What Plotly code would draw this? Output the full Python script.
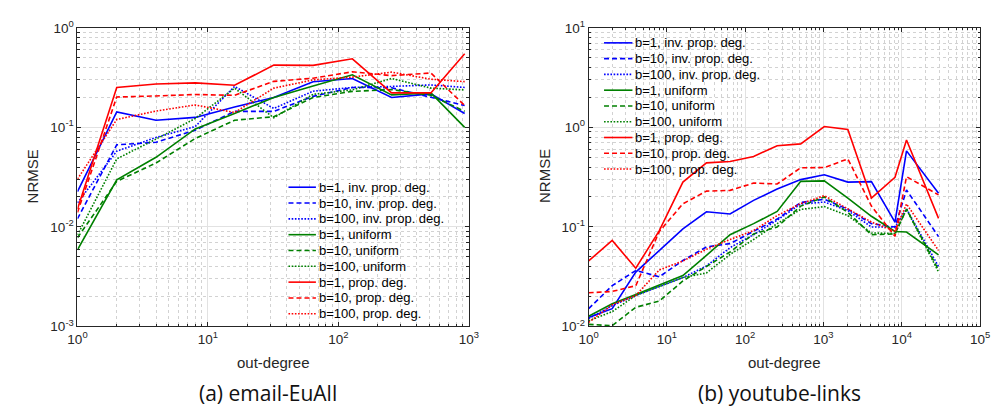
import plotly.graph_objects as go

# ---------------- data ----------------
x_email = [1, 2, 4, 8, 16, 32, 64, 128, 256, 512, 930]
email_inv_b1 = [0.0226, 0.143, 0.118, 0.126, 0.16, 0.2, 0.288, 0.31, 0.2, 0.217, 0.138]
email_inv_b10 = [0.0121, 0.0668, 0.0709, 0.0937, 0.145, 0.145, 0.205, 0.252, 0.25, 0.2, 0.166]
email_inv_b100 = [0.0175, 0.0577, 0.0792, 0.102, 0.258, 0.155, 0.231, 0.252, 0.258, 0.267, 0.252]
email_uni_b1 = [0.0059, 0.0297, 0.0501, 0.0966, 0.138, 0.2, 0.26, 0.338, 0.212, 0.222, 0.1]
email_uni_b10 = [0.0078, 0.0287, 0.0439, 0.0774, 0.118, 0.128, 0.2, 0.23, 0.24, 0.21, 0.145]
email_uni_b100 = [0.0083, 0.0483, 0.0763, 0.123, 0.248, 0.125, 0.215, 0.238, 0.31, 0.248, 0.238]
email_prop_b1 = [0.0151, 0.252, 0.273, 0.28, 0.265, 0.422, 0.42, 0.489, 0.222, 0.222, 0.548]
email_prop_b10 = [0.014, 0.202, 0.207, 0.214, 0.21, 0.29, 0.312, 0.362, 0.331, 0.352, 0.166]
email_prop_b100 = [0.0303, 0.12, 0.146, 0.168, 0.141, 0.248, 0.3, 0.32, 0.359, 0.305, 0.288]

x_yt = [1, 2, 4, 8, 16, 32, 64, 128, 256, 512, 1024, 2048, 4096, 8192, 11500, 29500]
yt_inv_b1 = [0.0123, 0.0151, 0.0352, 0.058, 0.0955, 0.142, 0.135, 0.185, 0.24, 0.299, 0.334, 0.282, 0.285, 0.112, 0.581, 0.218]
yt_inv_b10 = [0.0151, 0.0257, 0.0365, 0.0316, 0.046, 0.063, 0.068, 0.091, 0.12, 0.176, 0.19, 0.151, 0.108, 0.1, 0.235, 0.08]
yt_inv_b100 = [0.012, 0.0162, 0.0205, 0.025, 0.031, 0.0406, 0.062, 0.0836, 0.117, 0.17, 0.178, 0.146, 0.1, 0.1, 0.152, 0.04]
yt_uni_b1 = [0.0127, 0.0169, 0.021, 0.026, 0.0325, 0.0518, 0.0835, 0.108, 0.143, 0.287, 0.29, 0.195, 0.128, 0.09, 0.089, 0.0524]
yt_uni_b10 = [0.0105, 0.0102, 0.0156, 0.018, 0.0287, 0.04, 0.056, 0.085, 0.1, 0.162, 0.2, 0.14, 0.0836, 0.085, 0.151, 0.037]
yt_uni_b100 = [0.0114, 0.0141, 0.0205, 0.025, 0.031, 0.0345, 0.053, 0.0748, 0.108, 0.15, 0.16, 0.13, 0.087, 0.086, 0.15, 0.0353]
yt_prop_b1 = [0.0456, 0.0731, 0.0385, 0.092, 0.282, 0.44, 0.455, 0.51, 0.655, 0.683, 1.02, 0.953, 0.195, 0.315, 0.746, 0.122]
yt_prop_b10 = [0.0218, 0.0225, 0.0257, 0.09, 0.171, 0.229, 0.233, 0.276, 0.27, 0.393, 0.395, 0.483, 0.162, 0.0806, 0.32, 0.21]
yt_prop_b100 = [0.011, 0.0165, 0.0205, 0.037, 0.0455, 0.0597, 0.0748, 0.092, 0.13, 0.172, 0.206, 0.151, 0.112, 0.091, 0.17, 0.058]

series_names = ["b=1, inv. prop. deg.", "b=10, inv. prop. deg.", "b=100, inv. prop. deg.",
                "b=1, uniform", "b=10, uniform", "b=100, uniform",
                "b=1, prop. deg.", "b=10, prop. deg.", "b=100, prop. deg."]

email_series = [email_inv_b1, email_inv_b10, email_inv_b100,
                email_uni_b1, email_uni_b10, email_uni_b100,
                email_prop_b1, email_prop_b10, email_prop_b100]
yt_series = [yt_inv_b1, yt_inv_b10, yt_inv_b100,
             yt_uni_b1, yt_uni_b10, yt_uni_b100,
             yt_prop_b1, yt_prop_b10, yt_prop_b100]

email_xtick_vals = [1, 10, 100, 1000]
email_xtick_text = ["10<sup>0</sup>", "10<sup>1</sup>", "10<sup>2</sup>", "10<sup>3</sup>"]
email_ytick_vals = [0.001, 0.01, 0.1, 1]
email_ytick_text = ["10<sup>-3</sup>", "10<sup>-2</sup>", "10<sup>-1</sup>", "10<sup>0</sup>"]
yt_xtick_vals = [1, 10, 100, 1000, 10000, 100000]
yt_xtick_text = ["10<sup>0</sup>", "10<sup>1</sup>", "10<sup>2</sup>", "10<sup>3</sup>", "10<sup>4</sup>", "10<sup>5</sup>"]
yt_ytick_vals = [0.01, 0.1, 1, 10]
yt_ytick_text = ["10<sup>-2</sup>", "10<sup>-1</sup>", "10<sup>0</sup>", "10<sup>1</sup>"]

x_title = "out-degree"
y_title = "NRMSE"
captions = ["(a) email-EuAll", "(b) youtube-links"]

# ---------------- style ----------------
COLORS = ["#0000ff"] * 3 + ["#008000"] * 3 + ["#ff0000"] * 3
DASHES = ["solid", "5px,3px", "1.6px,1.6px"] * 3
LW = 1.6
W, H = 999, 409
AXC = "#262626"
FONT = "'Liberation Sans', Arial, Helvetica, sans-serif"
CAP_FONT = "'Open Sans', Lato, sans-serif"

fig = go.Figure()

for ys, name, c, d in zip(email_series, series_names, COLORS, DASHES):
    fig.add_trace(go.Scatter(x=x_email, y=ys, mode="lines", name=name,
                             line=dict(color=c, dash=d, width=LW),
                             xaxis="x", yaxis="y", showlegend=False))
for ys, name, c, d in zip(yt_series, series_names, COLORS, DASHES):
    fig.add_trace(go.Scatter(x=x_yt, y=ys, mode="lines", name=name,
                             line=dict(color=c, dash=d, width=LW),
                             xaxis="x2", yaxis="y2", showlegend=False))


def minor_vals(lo, hi):
    return [m * 10 ** k for k in range(lo, hi) for m in range(2, 10)]


def axis(domain, rng, tv, tt, anchor, minor_lo, minor_hi):
    return dict(
        type="log", domain=domain, range=rng, anchor=anchor,
        tickmode="array", tickvals=tv, ticktext=tt,
        ticks="inside", ticklen=4, tickwidth=1, tickcolor=AXC,
        showline=True, linecolor=AXC, linewidth=1, mirror="ticks",
        showgrid=True, gridcolor="#e2e2e2", gridwidth=1,
        zeroline=False,
        tickfont=dict(family=FONT, size=13.5, color=AXC),
        minor=dict(tickmode="array", tickvals=minor_vals(minor_lo, minor_hi),
                   ticks="inside", ticklen=2.5, tickcolor=AXC,
                   showgrid=True, gridcolor="#d2d2d2", griddash="dot", gridwidth=1),
    )


ydom = [1 - 322.7 / H, 1 - 10.3 / H]
x1dom = [60.7 / W, 460.0 / W]
x2dom = [582.3 / W, 981.7 / W]

fig.update_layout(
    width=W, height=H,
    margin=dict(l=0, r=0, t=0, b=0),
    paper_bgcolor="white", plot_bgcolor="white",
    showlegend=False,
    xaxis=axis(x1dom, [0, 3], email_xtick_vals, email_xtick_text, "y", 0, 3),
    yaxis=axis(ydom, [-3, 0], email_ytick_vals, email_ytick_text, "x", -3, 0),
    xaxis2=axis(x2dom, [0, 5], yt_xtick_vals, yt_xtick_text, "y2", 0, 5),
    yaxis2=axis(ydom, [-2, 1], yt_ytick_vals, yt_ytick_text, "x2", -2, 1),
)

# ---------------- custom legends (MATLAB style, transparent, no box) ----------------
shapes = []
annotations = []
legend_specs = [
    dict(x0=276, x1=304, tx=305.5, y0=177, dy=16.55),
    dict(x0=598, x1=627, tx=628, y0=26, dy=16.5),
]
for spec in legend_specs:
    for i, (name, c, d) in enumerate(zip(series_names, COLORS, DASHES)):
        yy = 1 - (spec["y0"] + i * spec["dy"]) / H
        shapes.append(dict(type="line", xref="paper", yref="paper",
                           x0=spec["x0"] / W, x1=spec["x1"] / W, y0=yy, y1=yy,
                           line=dict(color=c, dash=d, width=LW)))
        annotations.append(dict(text=name, xref="paper", yref="paper",
                                x=spec["tx"] / W, y=yy, xanchor="left", yanchor="middle",
                                showarrow=False,
                                font=dict(family=FONT, size=13, color="#000000")))

# axis titles
for cx in [260.3, 782.0]:
    annotations.append(dict(text=x_title, xref="paper", yref="paper",
                            x=cx / W, y=1 - 360 / H, xanchor="center", yanchor="middle",
                            showarrow=False, font=dict(family=FONT, size=15, color=AXC)))
for cx in [14.5, 536.5]:
    annotations.append(dict(text=y_title, xref="paper", yref="paper", textangle=-90,
                            x=cx / W, y=1 - 165.5 / H, xanchor="center", yanchor="middle",
                            showarrow=False, font=dict(family=FONT, size=15, color=AXC)))

for cap, cx in zip(captions, [255, 777]):
    annotations.append(dict(text=cap, xref="paper", yref="paper",
                            x=cx / W, y=1 - 392 / H, xanchor="center", yanchor="middle",
                            showarrow=False,
                            font=dict(family=CAP_FONT, size=21, color="#111111")))

fig.update_layout(shapes=shapes, annotations=annotations)

fig.write_html("out.html")
